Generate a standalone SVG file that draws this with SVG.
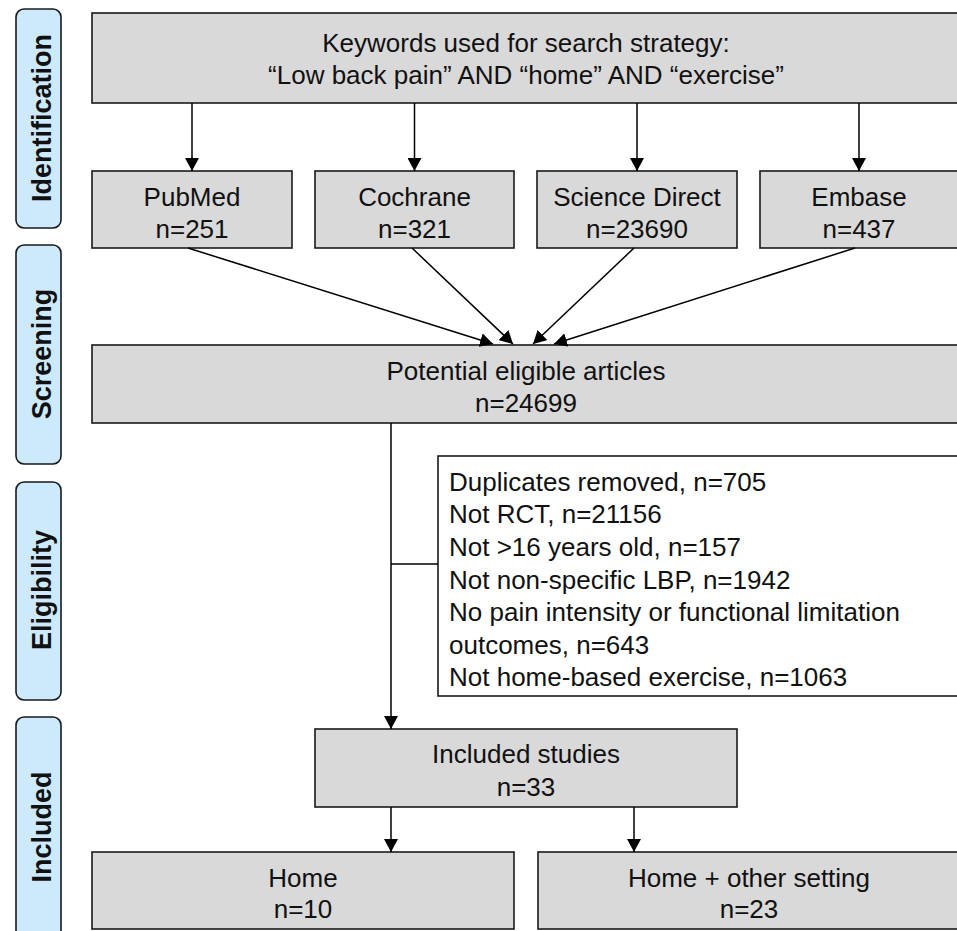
<svg xmlns="http://www.w3.org/2000/svg" width="957" height="931" viewBox="0 0 957 931">
<defs>
<style>
.box{fill:#d9d9d9;stroke:#1a1a1a;stroke-width:1.6}
.wbox{fill:#ffffff;stroke:#1a1a1a;stroke-width:1.6}
.side{fill:#cdeafd;stroke:#1a1a1a;stroke-width:1.6}
.t{font-family:"Liberation Sans",Arial,sans-serif;font-size:26px;fill:#111;text-anchor:middle}
.tl{font-family:"Liberation Sans",Arial,sans-serif;font-size:26px;fill:#111}
.st{font-family:"Liberation Sans",Arial,sans-serif;font-size:27px;font-weight:bold;fill:#111;text-anchor:middle}
.c{stroke:#000;stroke-width:1.5;fill:none}
</style>
<marker id="ah" markerUnits="userSpaceOnUse" markerWidth="14" markerHeight="14" refX="13" refY="7" orient="auto">
<path d="M0,0 L13,7 L0,14 Z" fill="#000"/>
</marker>
</defs>
<rect width="957" height="931" fill="#fff"/>

<g id="stage-identification">
<rect class="side" x="16" y="9" width="45" height="219" rx="8"/>
<text class="st" transform="translate(51,118) rotate(-90)">Identification</text>
</g>
<g id="stage-screening">
<rect class="side" x="16" y="245" width="45" height="219" rx="8"/>
<text class="st" transform="translate(51,354) rotate(-90)">Screening</text>
</g>
<g id="stage-eligibility">
<rect class="side" x="16" y="482" width="45" height="218" rx="8"/>
<text class="st" transform="translate(51,590) rotate(-90)">Eligibility</text>
</g>
<g id="stage-included">
<rect class="side" x="16" y="717" width="45" height="222" rx="8"/>
<text class="st" transform="translate(51,827) rotate(-90)">Included</text>
</g>

<g id="keywords">
<rect class="box" x="92" y="13" width="868" height="90"/>
<text class="t" x="526" y="52">Keywords used for search strategy:</text>
<text class="t" x="526" y="84">“Low back pain” AND “home” AND “exercise”</text>
</g>
<g id="pubmed">
<rect class="box" x="92" y="171" width="200" height="77"/>
<text class="t" x="192" y="206">PubMed</text>
<text class="t" x="192" y="238">n=251</text>
</g>
<g id="cochrane">
<rect class="box" x="315" y="171" width="199" height="77"/>
<text class="t" x="414.5" y="206">Cochrane</text>
<text class="t" x="414.5" y="238">n=321</text>
</g>
<g id="sciencedirect">
<rect class="box" x="537" y="171" width="200" height="77"/>
<text class="t" x="637" y="206">Science Direct</text>
<text class="t" x="637" y="238">n=23690</text>
</g>
<g id="embase">
<rect class="box" x="760" y="171" width="200" height="77"/>
<text class="t" x="859" y="206">Embase</text>
<text class="t" x="859" y="238">n=437</text>
</g>
<g id="potential">
<rect class="box" x="92" y="345" width="868" height="78"/>
<text class="t" x="526" y="380">Potential eligible articles</text>
<text class="t" x="526" y="412">n=24699</text>
</g>
<g id="excluded">
<rect class="wbox" x="438" y="456" width="522" height="240"/>
<text class="tl" x="449" y="491">Duplicates removed, n=705</text>
<text class="tl" x="449" y="523">Not RCT, n=21156</text>
<text class="tl" x="449" y="556">Not &gt;16 years old, n=157</text>
<text class="tl" x="449" y="589">Not non-specific LBP, n=1942</text>
<text class="tl" x="449" y="621">No pain intensity or functional limitation</text>
<text class="tl" x="449" y="654">outcomes, n=643</text>
<text class="tl" x="449" y="686">Not home-based exercise, n=1063</text>
</g>
<g id="included">
<rect class="box" x="315" y="729" width="422" height="78"/>
<text class="t" x="526" y="763">Included studies</text>
<text class="t" x="526" y="796">n=33</text>
</g>
<g id="home">
<rect class="box" x="92" y="852" width="422" height="77"/>
<text class="t" x="303" y="887">Home</text>
<text class="t" x="303" y="918">n=10</text>
</g>
<g id="homeother">
<rect class="box" x="538" y="852" width="422" height="77"/>
<text class="t" x="749" y="887">Home + other setting</text>
<text class="t" x="749" y="918">n=23</text>
</g>

<g id="connectors">
<line class="c" x1="192" y1="103" x2="192" y2="171" marker-end="url(#ah)"/>
<line class="c" x1="414.5" y1="103" x2="414.5" y2="171" marker-end="url(#ah)"/>
<line class="c" x1="637" y1="103" x2="637" y2="171" marker-end="url(#ah)"/>
<line class="c" x1="859" y1="103" x2="859" y2="171" marker-end="url(#ah)"/>
<line class="c" x1="188" y1="248" x2="493" y2="344" marker-end="url(#ah)"/>
<line class="c" x1="412" y1="248" x2="513" y2="344" marker-end="url(#ah)"/>
<line class="c" x1="634" y1="248" x2="533" y2="344" marker-end="url(#ah)"/>
<line class="c" x1="855" y1="248" x2="554" y2="344" marker-end="url(#ah)"/>
<line class="c" x1="391" y1="423" x2="391" y2="729" marker-end="url(#ah)"/>
<line class="c" x1="391" y1="564" x2="438" y2="564"/>
<line class="c" x1="391" y1="807" x2="391" y2="852" marker-end="url(#ah)"/>
<line class="c" x1="634" y1="807" x2="634" y2="852" marker-end="url(#ah)"/>
</g>
</svg>
